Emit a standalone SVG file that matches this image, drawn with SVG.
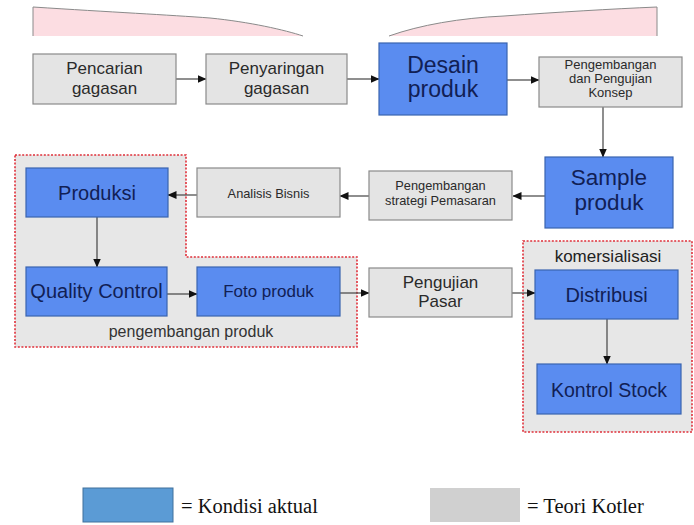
<svg xmlns="http://www.w3.org/2000/svg" width="694" height="525" viewBox="0 0 694 525">
<style>
.gbox{fill:#e4e4e4;stroke:#8a8a8a;stroke-width:1.2}
.bbox{fill:#5a8cf0;stroke:#3a64b0;stroke-width:1.2}
.t{font-family:"Liberation Sans",Arial,sans-serif;text-anchor:middle}
.tg{fill:#2a2a2a}
.tb{fill:#112055}
.grp{fill:#e7e7e7;stroke:#e0303a;stroke-width:1.6;stroke-dasharray:2 1.6}
.con{stroke:#444;stroke-width:1.2;fill:none;marker-end:url(#ah)}
.pink{fill:#fcdde2}
.pinkline{fill:none;stroke:#8a8a8a;stroke-width:1}
.leg{font-family:"Liberation Serif","Times New Roman",serif;font-size:20.5px;fill:#111}
</style>
<defs>
<marker id="ah" markerWidth="9" markerHeight="8" refX="8.5" refY="4" orient="auto" markerUnits="userSpaceOnUse">
<path d="M0,0 L9,4 L0,8 Z" fill="#111"/>
</marker>
</defs>
<rect width="694" height="525" fill="#fff"/>

<g id="banner">
<path class="pink" d="M33,36 L33,7 C110,12 170,15 210,18 C250,22 285,30 303,36 Z"/>
<path class="pinkline" d="M33,36 L33,7 C110,12 170,15 210,18 C250,22 285,30 303,36"/>
<path class="pink" d="M389,36 C420,25 460,18 504,16 C560,12 610,9 657,7 L657,36 Z"/>
<path class="pinkline" d="M389,36 C420,25 460,18 504,16 C560,12 610,9 657,7 L657,36"/>
</g>

<g id="group-pengembangan-produk">
<path class="grp" d="M15,155 H186 V257 H357 V347 H15 Z"/>
<text class="t" x="191" y="337" font-size="16" fill="#333">pengembangan produk</text>
</g>
<g id="group-komersialisasi">
<path class="grp" d="M523,241 H692 V432 H523 Z"/>
<text class="t" x="608" y="262" font-size="17" fill="#222">komersialisasi</text>
</g>

<g id="connectors">
<line class="con" x1="176" y1="79" x2="206" y2="79"/>
<line class="con" x1="347" y1="79" x2="379" y2="79"/>
<line class="con" x1="507" y1="80" x2="539" y2="80"/>
<line class="con" x1="603" y1="107" x2="603" y2="157"/>
<line class="con" x1="545" y1="196" x2="513" y2="196"/>
<line class="con" x1="369" y1="196" x2="340" y2="196"/>
<line class="con" x1="197" y1="195" x2="168" y2="195"/>
<line class="con" x1="97" y1="217" x2="97" y2="267"/>
<line class="con" x1="167" y1="294" x2="197" y2="294"/>
<line class="con" x1="340" y1="293" x2="369" y2="293"/>
<line class="con" x1="512" y1="293" x2="535" y2="293"/>
<line class="con" x1="607" y1="319" x2="607" y2="364"/>
</g>

<g id="pencarian">
<rect class="gbox" x="33" y="54" width="143" height="50"/>
<text class="t tg" x="104.5" y="74" font-size="17">Pencarian</text>
<text class="t tg" x="104.5" y="94" font-size="17">gagasan</text>
</g>
<g id="penyaringan">
<rect class="gbox" x="206" y="54" width="141" height="50"/>
<text class="t tg" x="276.5" y="74" font-size="17">Penyaringan</text>
<text class="t tg" x="276.5" y="94" font-size="17">gagasan</text>
</g>
<g id="desain">
<rect class="bbox" x="379" y="43" width="128" height="72"/>
<text class="t tb" x="443" y="73" font-size="23">Desain</text>
<text class="t tb" x="443" y="97" font-size="23">produk</text>
</g>
<g id="konsep">
<rect class="gbox" x="539" y="57" width="143" height="50"/>
<text class="t tg" x="610.5" y="69" font-size="13">Pengembangan</text>
<text class="t tg" x="610.5" y="83" font-size="13">dan Pengujian</text>
<text class="t tg" x="610.5" y="97" font-size="13">Konsep</text>
</g>
<g id="sample">
<rect class="bbox" x="545" y="157" width="128" height="71"/>
<text class="t tb" x="609" y="185" font-size="22.5">Sample</text>
<text class="t tb" x="609" y="210" font-size="22.5">produk</text>
</g>
<g id="strategi">
<rect class="gbox" x="369" y="171" width="143" height="49"/>
<text class="t tg" x="440.5" y="190" font-size="12.8">Pengembangan</text>
<text class="t tg" x="440.5" y="205" font-size="12.8">strategi Pemasaran</text>
</g>
<g id="analisis">
<rect class="gbox" x="197" y="168" width="143" height="49"/>
<text class="t tg" x="268.5" y="198" font-size="12.8">Analisis Bisnis</text>
</g>
<g id="produksi">
<rect class="bbox" x="26" y="168" width="142" height="49"/>
<text class="t tb" x="97" y="200" font-size="20">Produksi</text>
</g>
<g id="quality-control">
<rect class="bbox" x="26" y="267" width="141" height="49"/>
<text class="t tb" x="96.5" y="298" font-size="20">Quality Control</text>
</g>
<g id="foto-produk">
<rect class="bbox" x="197" y="267" width="143" height="49"/>
<text class="t tb" x="268.5" y="297" font-size="17">Foto produk</text>
</g>
<g id="pengujian-pasar">
<rect class="gbox" x="369" y="268" width="143" height="49"/>
<text class="t tg" x="440.5" y="288" font-size="17">Pengujian</text>
<text class="t tg" x="440.5" y="307" font-size="17">Pasar</text>
</g>
<g id="distribusi">
<rect class="bbox" x="535" y="270" width="143" height="49"/>
<text class="t tb" x="606.5" y="302" font-size="20">Distribusi</text>
</g>
<g id="kontrol-stock">
<rect class="bbox" x="537" y="364" width="144" height="50"/>
<text class="t tb" x="609" y="397" font-size="19.5">Kontrol Stock</text>
</g>

<g id="legend">
<rect x="83" y="488" width="90" height="34" fill="#5b9bd5" stroke="#41719c" stroke-width="1"/>
<text class="leg" x="181" y="513">= Kondisi aktual</text>
<rect x="430" y="488" width="90" height="34" fill="#d0d0d0"/>
<text class="leg" x="527" y="513">= Teori Kotler</text>
</g>
</svg>
